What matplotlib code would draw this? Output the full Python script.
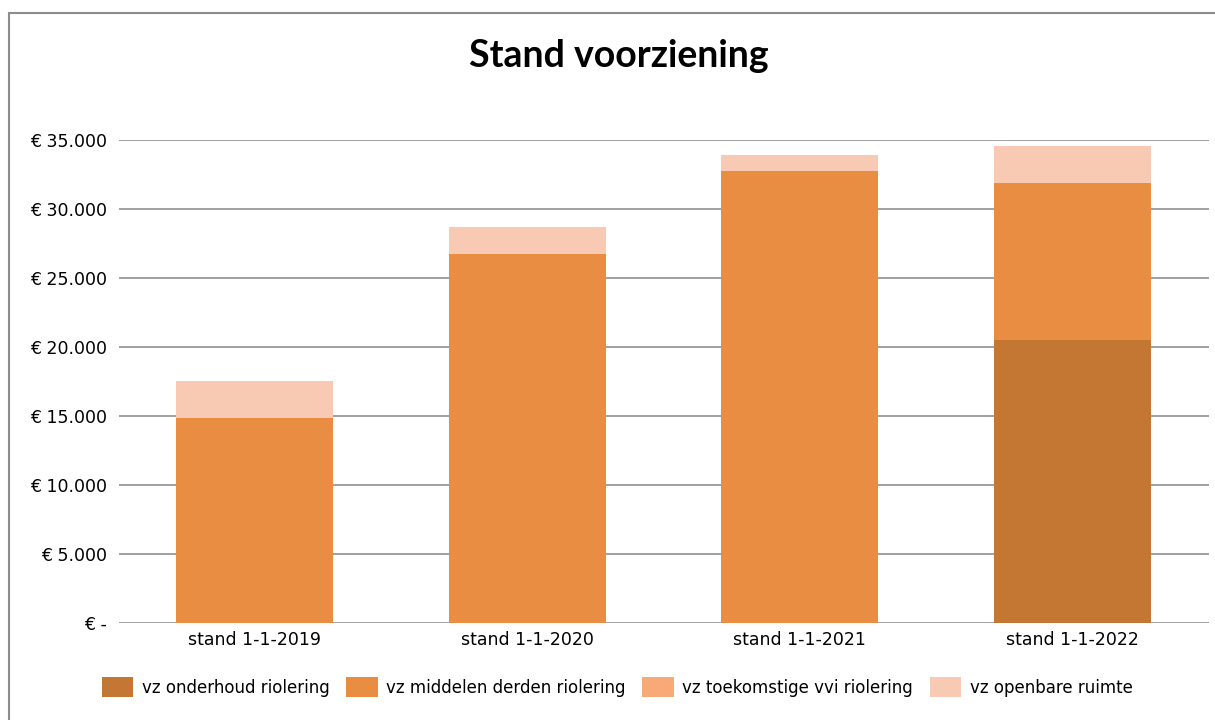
import matplotlib.pyplot as plt
import numpy as np
from matplotlib.patches import Rectangle

categories = ['stand 1-1-2019', 'stand 1-1-2020', 'stand 1-1-2021', 'stand 1-1-2022']
series_names = ['vz onderhoud riolering', 'vz middelen derden riolering',
                'vz toekomstige vvi riolering', 'vz openbare ruimte']
onderhoud = [0, 0, 0, 20500]
middelen_derden = [14850, 26700, 32700, 11350]
toekomstige_vvi = [0, 0, 0, 0]
openbare_ruimte = [2650, 2000, 1150, 2700]
colors = ['#C47733', '#E88D42', '#F7A977', '#F8CAB3']

y_ticks = [0, 5000, 10000, 15000, 20000, 25000, 30000, 35000]

def euro(v):
    if v == 0:
        return '€ -'
    return '€ ' + f'{v:,.0f}'.replace(',', '.')

fig = plt.figure(figsize=(12.15, 7.2), dpi=100)
# grey frame around the chart area
fig.patches.append(Rectangle((8.5 / 1215, -0.05), 1.2, 0.05 + 1 - 13 / 720,
                             transform=fig.transFigure, fill=False,
                             edgecolor='#8C8C8C', linewidth=1.5))
ax = fig.add_axes([118.5 / 1215, 1 - 623 / 720, 1090 / 1215, (623 - 139.5) / 720])

x = np.arange(len(categories))
bottom = np.zeros(len(categories))
for name, vals, col in zip(series_names,
                           [onderhoud, middelen_derden, toekomstige_vvi, openbare_ruimte],
                           colors):
    vals = np.array(vals, dtype=float)
    ax.bar(x, vals, width=0.577, bottom=bottom, color=col, label=name, zorder=3)
    bottom += vals

ax.set_xlim(-0.5, len(categories) - 0.5)
ax.set_ylim(0, 35000)
ax.set_yticks(y_ticks)
ax.set_yticklabels([euro(v) for v in y_ticks])
ax.set_xticks(x)
ax.set_xticklabels(categories)
ax.tick_params(axis='both', length=0, labelsize=12.5, colors='black')
ax.tick_params(axis='y', pad=8)
ax.tick_params(axis='x', pad=6)
ax.grid(axis='y', color='#A0A0A0', linewidth=1.4, zorder=0)
for s in ax.spines.values():
    s.set_visible(False)

fig.text(0.509, 1 - 67 / 720, 'Stand voorziening', ha='center', va='baseline',
         fontsize=27, fontweight='bold', family='Lato')

handles, labels = ax.get_legend_handles_labels()
fig.legend(handles, labels, loc='center', bbox_to_anchor=(0.508, 1 - 687 / 720), ncol=4,
           frameon=False, fontsize=12, handlelength=1.9, handleheight=1.45,
           handletextpad=0.5, columnspacing=1.0)

fig.savefig('out.png', dpi=100)
